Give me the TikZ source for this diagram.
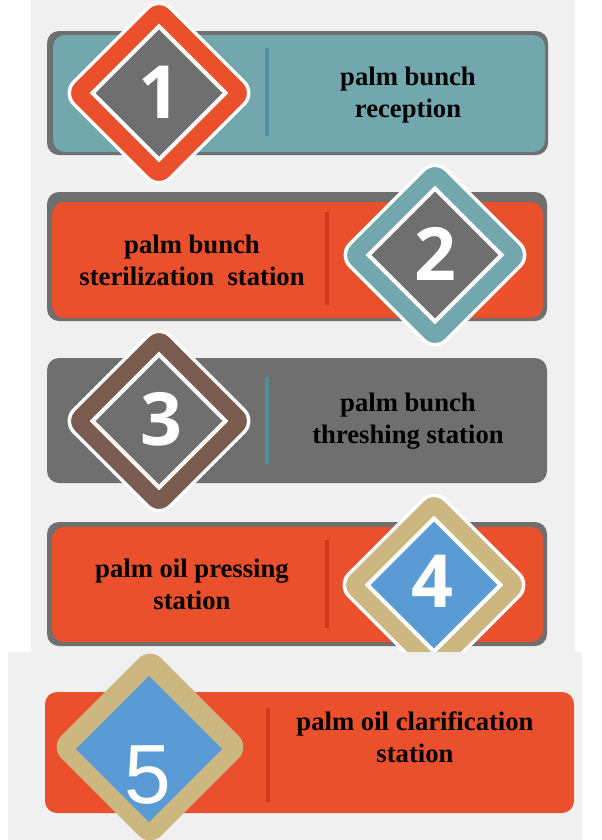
\documentclass[tikz,border=0pt]{standalone}
\usepackage{fontspec}
\setmainfont{Liberation Serif}
\newfontfamily\numfont{Open Sans}
\newfontfamily\thinfont{Liberation Sans}
\usetikzlibrary{shapes.geometric}
\definecolor{bgpanel}{HTML}{F0F0F0}
\definecolor{tealbar}{HTML}{72A8AD}
\definecolor{greybar}{HTML}{6F6F6F}
\definecolor{orangebar}{HTML}{E9502B}
\definecolor{brownband}{HTML}{7A5B50}
\definecolor{tanband}{HTML}{CDB780}
\definecolor{bluecore}{HTML}{5B9BD5}
\definecolor{redline}{HTML}{CF3A1E}
\definecolor{tealline}{HTML}{4F9099}

\begin{document}
\begin{tikzpicture}[x=0.75pt, y=-0.75pt,
    panel/.style={rounded corners=9pt},
    divider/.style={line width=2.4pt},
    badge/.style={diamond, aspect=1, minimum size=145.5pt, inner sep=0pt, rounded corners=12pt, draw=white, line width=2.6pt},
    core/.style={diamond, aspect=1, minimum size=101pt, inner sep=0pt, draw=white, line width=3pt, fill=greybar},
    digit/.style={font=\numfont\bfseries\fontsize{55}{55}\selectfont, text=white, inner sep=0pt},
    stagetext/.style={font=\bfseries\fontsize{20}{24}\selectfont, align=center, text=black}]
    \useasboundingbox (0,0) rectangle (602,840);
    \fill[white] (0,0) rectangle (602,840);
    \fill[bgpanel] (31,0) rectangle (575,652);

    \fill[greybar, panel] (47,31) rectangle (548,155);
    \fill[tealbar, panel] (53,35) rectangle (545,152);
    \draw[tealline, divider] (267,48) -- (267,136);
    \node[badge, fill=orangebar] (b1) at (159,93) {};
    \node[core] (c1) at (b1) {};
    \node[digit] (d1) at (159,92) {1};
    \node[stagetext] (t1) at (408,95) {palm bunch\\reception};

    \fill[greybar, panel] (47,192) rectangle (547,321);
    \fill[orangebar, panel] (52,202) rectangle (543,318);
    \draw[redline, divider] (327,212) -- (327,305);
    \node[badge, fill=tealbar] (b2) at (435,255) {};
    \node[core] (c2) at (b2) {};
    \node[digit] (d2) at (435,254) {2};
    \node[stagetext] (t2) at (192,260) {palm bunch\\sterilization\ \ station};

    \fill[greybar, panel] (47,358) rectangle (547,483);
    \draw[tealline, divider] (267,377) -- (267,464);
    \node[badge, fill=brownband] (b3) at (159,421) {};
    \node[core] (c3) at (b3) {};
    \node[digit] (d3) at (161,419) {3};
    \node[stagetext] (t3) at (408,421) {palm bunch\\threshing station};

    \fill[greybar, panel] (47,522) rectangle (547,646);
    \fill[orangebar, panel] (52,527) rectangle (543,642);
    \draw[redline, divider] (327,540) -- (327,628);
    \node[badge, fill=tanband] (b4) at (434,585) {};
    \node[core, fill=bluecore] (c4) at (b4) {};
    \node[digit] (d4) at (432,581) {4};
    \node[stagetext] (t4) at (192,584) {palm oil pressing\\station};

    \fill[bgpanel] (8,652) rectangle (582,840);

    \fill[orangebar, panel] (45,692) rectangle (574,813);
    \draw[redline, divider] (268,708) -- (268,802);
    \node[badge, fill=tanband, draw=none, minimum size=151pt] (b5) at (150,747) {};
    \node[core, fill=bluecore, draw=none, minimum size=111pt] (c5) at (149,749) {};
    \node[digit, font=\thinfont\fontsize{63}{63}\selectfont] (d5) at (148,775) {5};
    \node[stagetext] (t5) at (415,737) {palm oil clarification\\station};
\end{tikzpicture}
\end{document}
